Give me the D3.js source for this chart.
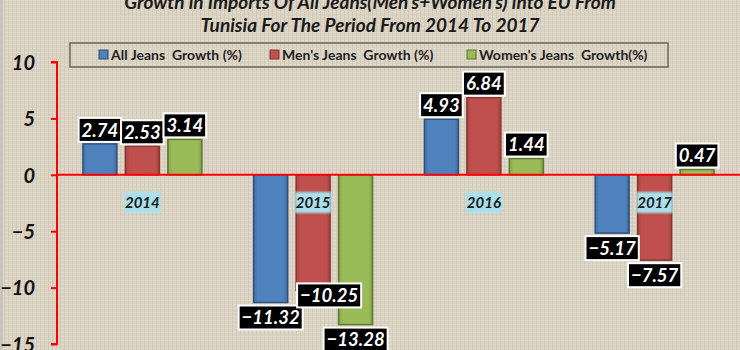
<!DOCTYPE html>
<html>
<head>
<meta charset="utf-8">
<script src="https://cdn.jsdelivr.net/npm/d3@7"></script>
<style>
  body { margin: 0; background: #dad2c2; }
  svg { display: block; }
</style>
</head>
<body>
<div id="chart"></div>
<script>
const years = ["2014", "2015", "2016", "2017"];
const series = ["All Jeans  Growth (%)", "Men's Jeans  Growth (%)", "Women's Jeans  Growth(%)"];
const allJeans = [2.74, -11.32, 4.93, -5.17];
const mensJeans = [2.53, -10.25, 6.84, -7.57];
const womensJeans = [3.14, -13.28, 1.44, 0.47];
const yTicks = [10, 5, 0, -5, -10, -15];
const titleLines = ["Growth in Imports Of All Jeans(Men's+Women's) into EU From",
                    "Tunisia For The Period From 2014 To 2017"];

const width = 740, height = 350;
const fills = ["#4f81bd", "#c0504d", "#9bbb59"];
const edges = ["#2d4f7c", "#8a3532", "#5f7731"];
const values = [allJeans, mensJeans, womensJeans];

const rows = years.map((y, i) => ({
  year: y,
  vals: values.map((v, s) => ({ s, i, v: v[i] }))
}));

const svg = d3.select("#chart").append("svg")
    .attr("width", width)
    .attr("height", height)
    .attr("font-family", "Lato, 'Open Sans', sans-serif");

// linen-ish background
const defs = svg.append("defs");
const pat = defs.append("pattern")
    .attr("id", "linen")
    .attr("width", 4).attr("height", 4)
    .attr("patternUnits", "userSpaceOnUse");
pat.append("rect").attr("width", 4).attr("height", 4).attr("fill", "#dad2c2");
pat.append("rect").attr("width", 4).attr("height", 1).attr("fill", "#e2dbcc");
pat.append("rect").attr("width", 1).attr("height", 4).attr("fill", "#d1c8b7");

const glow = defs.append("filter").attr("id", "soft")
    .attr("x", "-20%").attr("y", "-30%").attr("width", "140%").attr("height", "160%");
glow.append("feGaussianBlur").attr("stdDeviation", 1.2);

fills.forEach((c, i) => {
  const g = defs.append("linearGradient").attr("id", "bev" + i)
      .attr("x1", 0).attr("x2", 1).attr("y1", 0).attr("y2", 0);
  g.append("stop").attr("offset", "0%").attr("stop-color", d3.color(c).darker(0.4));
  g.append("stop").attr("offset", "12%").attr("stop-color", c);
  g.append("stop").attr("offset", "88%").attr("stop-color", c);
  g.append("stop").attr("offset", "100%").attr("stop-color", d3.color(c).darker(0.5));
});

svg.append("rect").attr("width", width).attr("height", height).attr("fill", "url(#linen)");
svg.append("rect").attr("width", 3).attr("height", height).attr("fill", "#c9c6c0");

// title
svg.append("g").selectAll("text")
  .data(titleLines)
  .join("text")
    .attr("x", 370)
    .attr("y", (d, i) => 9 + i * 23)
    .attr("text-anchor", "middle")
    .attr("font-size", 19)
    .attr("font-weight", "bold")
    .attr("font-style", "italic")
    .attr("fill", "#1a1a1a")
    .text(d => d);

const x = d3.scaleBand().domain(years).range([57, 740]);
const xs = d3.scaleBand().domain(d3.range(3)).range([0, x.bandwidth()])
    .paddingInner(0.2).paddingOuter(0.61);
const y = d3.scaleLinear().domain([-15, 10]).range([344, 62]);

// axes
const yAxis = svg.append("g")
    .attr("transform", "translate(57,0)")
    .call(d3.axisLeft(y).tickValues(yTicks).tickSize(6).tickFormat(d3.format("d")));
yAxis.select(".domain").attr("stroke", "#ff0000").attr("stroke-width", 2)
    .attr("d", `M-6,${y(10)}H0V${y(-15)}H-6`);
yAxis.selectAll(".tick line").attr("stroke", "#ff0000").attr("stroke-width", 2);
yAxis.selectAll(".tick text")
    .attr("x", -22)
    .attr("dy", "0.36em")
    .attr("fill", "#111")
    .attr("font-size", 20)
    .attr("font-weight", "bold")
    .attr("font-style", "italic")
    .attr("font-family", "Lato, sans-serif");

const groups = svg.append("g").selectAll("g")
  .data(rows)
  .join("g")
    .attr("transform", d => `translate(${x(d.year)},0)`);

groups.selectAll("rect")
  .data(d => d.vals)
  .join("rect")
    .attr("x", d => xs(d.s))
    .attr("y", d => y(Math.max(0, d.v)))
    .attr("width", xs.bandwidth())
    .attr("height", d => Math.abs(y(d.v) - y(0)))
    .attr("fill", d => `url(#bev${d.s})`)
    .attr("stroke", d => edges[d.s])
    .attr("stroke-width", 1.5);

// zero line
svg.append("line")
    .attr("x1", 57).attr("x2", width)
    .attr("y1", y(0)).attr("y2", y(0))
    .attr("stroke", "#ff0000").attr("stroke-width", 2);

// category labels, drawn over the bars
const cat = svg.append("g").selectAll("g")
  .data(years)
  .join("g")
    .attr("transform", d => `translate(${x(d) + x.bandwidth() / 2},203)`);
cat.append("rect")
    .attr("x", -18).attr("y", -11).attr("width", 36).attr("height", 21)
    .attr("fill", "#a9e0ec")
    .attr("filter", "url(#soft)");
cat.append("text")
    .attr("text-anchor", "middle")
    .attr("dy", "0.35em")
    .attr("font-size", 15)
    .attr("font-weight", "bold")
    .attr("font-style", "italic")
    .attr("fill", "#1a1a1a")
    .text(d => d);

// data labels (one crowded label in 2015 is nudged, as in the original)
const nudge = (d) => (d.i === 1 && d.s === 1) ? [16, -10] : [0, 0];
const lab = groups.selectAll("g.lab")
  .data(d => d.vals)
  .join("g")
    .attr("class", "lab")
    .attr("transform", d => {
      const [nx, ny] = nudge(d);
      const cx = xs(d.s) + xs.bandwidth() / 2 + nx;
      const cy = (d.v >= 0 ? y(d.v) - 14 : y(d.v) + 15) + ny;
      return `translate(${cx},${cy})`;
    });

lab.append("rect");
const labText = lab.append("text")
    .attr("text-anchor", "middle")
    .attr("dy", "0.36em")
    .attr("font-size", 18.5)
    .attr("font-weight", "bold")
    .attr("font-style", "italic")
    .attr("fill", "#fff")
    .text(d => d3.format(".2f")(d.v));

labText.each(function() {
  const w = this.getComputedTextLength() + 6;
  d3.select(this.previousSibling)
      .attr("x", -w / 2).attr("y", -12)
      .attr("width", w).attr("height", 24)
      .attr("fill", "#000")
      .attr("stroke", "#fff")
      .attr("stroke-width", 2);
});

// legend
const legend = svg.append("g");
legend.append("rect")
    .attr("x", 70).attr("y", 43).attr("width", 598).attr("height", 24)
    .attr("fill", "none")
    .attr("stroke", "#6b6760")
    .attr("stroke-width", 1.5);

const legX = [99, 270, 467];
const item = legend.selectAll("g")
  .data(series)
  .join("g")
    .attr("transform", (d, i) => `translate(${legX[i]},55)`);
item.append("rect")
    .attr("x", 0).attr("y", -5).attr("width", 9).attr("height", 9)
    .attr("fill", (d, i) => `url(#bev${i})`)
    .attr("stroke", (d, i) => edges[i])
    .attr("stroke-width", 1);
item.append("text")
    .attr("x", 12)
    .attr("dy", "0.36em")
    .attr("font-size", 14)
    .attr("font-weight", "bold")
    .attr("fill", "#222")
    .attr("xml:space", "preserve")
    .style("white-space", "pre")
    .text(d => d);
</script>
</body>
</html>
